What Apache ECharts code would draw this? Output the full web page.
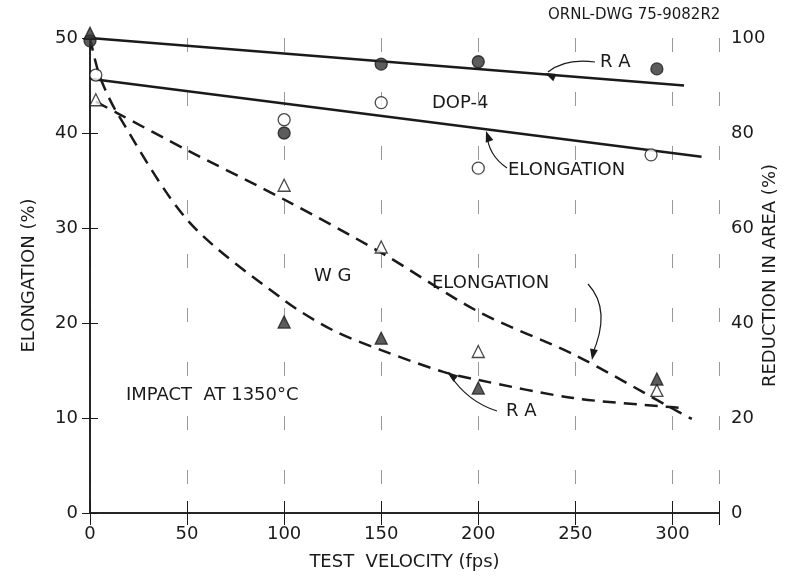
<!DOCTYPE html>
<html>
<head>
<meta charset="utf-8">
<script src="https://cdn.jsdelivr.net/npm/echarts@6/dist/echarts.min.js"></script>
<style>
  html, body { margin: 0; padding: 0; background: #fff; }
  #chart { width: 793px; height: 579px; }
</style>
</head>
<body>
<div id="chart"></div>
<script>
// DOP-4 measured points [velocity, value]
const dopElongPts = [[3, 46.1], [100, 41.4], [150, 43.2], [200, 36.3], [289, 37.7]]
const dopRaPts = [[0, 99.4], [100, 80], [150, 94.5], [200, 95], [292, 93.5]]
// WG measured points
const wgElongPts = [[3, 43.5], [100, 34.5], [150, 28], [200, 17], [292, 12.9]]
const wgRaPts = [[0, 101], [100, 40.2], [150, 36.8], [200, 26.3], [292, 28.2]]

// fitted curves
const dopRaFit = [[0, 100], [306, 90]]
const dopElongFit = [[0, 45.7], [315, 37.5]]
const wgElongFit = [[3, 43.3], [14, 42.1], [50, 38.2], [100, 33], [150, 27.4], [200, 21.2], [250, 16.6], [300, 11], [310, 9.9]]
const wgRaFit = [[0, 100], [5, 92], [14, 84.2], [51, 61.3], [100, 44.8], [125, 38.5], [150, 34.3], [182, 29.7], [200, 28], [249, 24.2], [299, 22.3], [306, 22.1]]

const xTicks = [0, 50, 100, 150, 200, 250, 300]

const font = 'DejaVu Sans'
const ink = '#1a1a1a'

const chart = echarts.init(document.getElementById('chart'))

const solid = (data, yAxisIndex) => ({
  type: 'line', data, yAxisIndex, symbol: 'none', smooth: false,
  lineStyle: { color: ink, width: 2.5 }, z: 2
})
const dashed = (data, yAxisIndex) => ({
  type: 'line', data, yAxisIndex, symbol: 'none', smooth: 0.3,
  lineStyle: { color: ink, width: 2.5, type: [13, 8] }, z: 2
})
const pts = (data, yAxisIndex, symbol, filled) => ({
  type: 'scatter', data, yAxisIndex, symbol, symbolSize: 12,
  clip: false,
  itemStyle: { color: filled ? '#333' : '#fff', borderColor: ink, borderWidth: 1.3 }, z: 3
})

const axisText = { color: ink, fontFamily: font, fontSize: 18 }

const arrowHead = (x, y, angle) => ({
  type: 'polygon', x, y, rotation: angle,
  shape: { points: [[0, 0], [-11, -4], [-11, 4]] },
  style: { fill: ink }
})

const option = {
  animation: false,
  grid: { left: 90, top: 38, right: 74, bottom: 66, outerBoundsMode: 'none' },
  xAxis: [
    {
      type: 'value', min: 0, max: 324, interval: 50, position: 'bottom',
      name: 'TEST  VELOCITY (fps)', nameLocation: 'middle', nameGap: 40,
      nameTextStyle: axisText,
      axisLine: { lineStyle: { color: ink, width: 1.5 } },
      axisTick: { inside: true, length: 12, lineStyle: { color: ink } },
      axisLabel: { ...axisText, margin: 12, formatter: v => xTicks.includes(v) ? String(v) : '' },
      splitLine: { show: true, lineStyle: { color: '#999', width: 1, type: [14, 40] } }
    },
    {
      type: 'value', min: 0, max: 324, interval: 50, position: 'top',
      axisLine: { lineStyle: { color: ink, width: 1.5 } },
      axisTick: { inside: true, length: 12, lineStyle: { color: ink } },
      axisLabel: { show: false }, splitLine: { show: false }
    }
  ],
  yAxis: [
    {
      type: 'value', min: 0, max: 50, interval: 10, position: 'left',
      name: 'ELONGATION (%)', nameLocation: 'middle', nameGap: 52,
      nameTextStyle: axisText,
      axisLine: { show: true, lineStyle: { color: ink, width: 1.5 } },
      axisTick: { show: true, inside: true, length: 8, lineStyle: { color: ink } },
      axisLabel: { ...axisText, margin: 12 },
      splitLine: { show: false }
    },
    {
      type: 'value', min: 0, max: 100, interval: 20, position: 'right',
      name: 'REDUCTION IN AREA (%)', nameLocation: 'middle', nameGap: 42,
      nameMoveOverlap: false,
      nameTextStyle: axisText,
      axisLine: { show: true, lineStyle: { color: ink, width: 1.5 } },
      axisTick: { show: true, inside: true, length: 8, lineStyle: { color: ink } },
      axisLabel: { ...axisText, margin: 12 },
      splitLine: { show: false }
    }
  ],
  series: [
    solid(dopRaFit, 1),
    solid(dopElongFit, 0),
    dashed(wgElongFit, 0),
    dashed(wgRaFit, 1),
    pts(dopRaPts, 1, 'circle', true),
    pts(dopElongPts, 0, 'circle', false),
    pts(wgElongPts, 0, 'triangle', false),
    pts(wgRaPts, 1, 'triangle', true)
  ],
  graphic: [
    { type: 'text', left: 548, top: 8, style: { text: 'ORNL-DWG 75-9082R2', font: '15px "DejaVu Sans"', fill: ink } },
    { type: 'text', x: 600, y: 53, style: { text: 'R A', font: '18px "DejaVu Sans"', fill: ink } },
    { type: 'text', x: 432, y: 94, style: { text: 'DOP-4', font: '18px "DejaVu Sans"', fill: ink } },
    { type: 'text', x: 508, y: 161, style: { text: 'ELONGATION', font: '18px "DejaVu Sans"', fill: ink } },
    { type: 'text', x: 314, y: 267, style: { text: 'W G', font: '18px "DejaVu Sans"', fill: ink } },
    { type: 'text', x: 432, y: 274, style: { text: 'ELONGATION', font: '18px "DejaVu Sans"', fill: ink } },
    { type: 'text', x: 126, y: 386, style: { text: 'IMPACT  AT 1350°C', font: '18px "DejaVu Sans"', fill: ink } },
    { type: 'text', x: 506, y: 402, style: { text: 'R A', font: '18px "DejaVu Sans"', fill: ink } },
    // arrows
    { type: 'bezierCurve', shape: { x1: 595, y1: 62, x2: 548, y2: 72, cpx1: 565, cpy1: 58 }, style: { stroke: ink, lineWidth: 1.2, fill: 'none' } },
    arrowHead(545, 73, 2.7),
    { type: 'bezierCurve', shape: { x1: 507, y1: 168, x2: 487, y2: 134, cpx1: 488, cpy1: 155 }, style: { stroke: ink, lineWidth: 1.2, fill: 'none' } },
    arrowHead(486, 131, 1.9),
    { type: 'bezierCurve', shape: { x1: 588, y1: 284, x2: 592, y2: 355, cpx1: 612, cpy1: 310 }, style: { stroke: ink, lineWidth: 1.2, fill: 'none' } },
    arrowHead(592, 360, -1.75),
    { type: 'bezierCurve', shape: { x1: 497, y1: 411, x2: 450, y2: 375, cpx1: 468, cpy1: 402 }, style: { stroke: ink, lineWidth: 1.2, fill: 'none' } },
    arrowHead(447, 372, 2.5)
  ]
}

chart.setOption(option)
</script>
</body>
</html>
